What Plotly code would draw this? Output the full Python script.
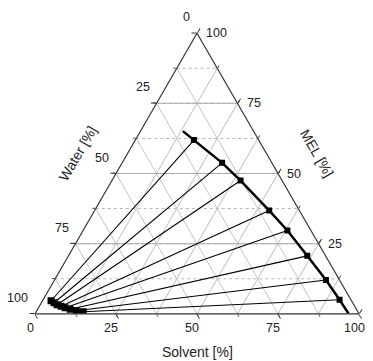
import math
import plotly.graph_objects as go

# ---- data (MEL = a / top, Water = b / bottom-left, Solvent = c / bottom-right) ----
# Solvent-rich phase (right branch, squares)
right_mel = [61.9, 53.8, 47.5, 36.8, 29.7, 20.65, 12.06, 5.0]
right_water = [20.0, 15.35, 12.8, 9.3, 7.25, 5.65, 4.17, 3.5]
right_solvent = [18.1, 30.85, 39.7, 53.9, 63.05, 73.7, 83.77, 91.5]
# curve extensions of the right branch (no markers)
right_start = (65.1, 21.8, 13.1)
right_end = (0.0, 3.2, 96.8)

# Water-rich phase (left branch, squares)
left_mel = [4.65, 3.94, 3.22, 2.68, 2.15, 1.61, 1.07, 0.72]
left_water = [92.7, 92.1, 91.6, 90.6, 89.6, 88.3, 86.75, 84.8]
left_solvent = [2.63, 3.92, 5.21, 6.72, 8.23, 10.05, 12.18, 14.52]

major_ticks = [0, 25, 50, 75, 100]
minor_grid = [12.5, 25, 37.5, 50, 62.5, 75, 87.5]
tick_labels = ["0", "25", "50", "75", "100"]

FONT = "Arial, Liberation Sans, sans-serif"
TXT = "#222"

# figure geometry (the page body adds an 8 px offset)
FIG_W, FIG_H = 365, 353
M = dict(l=27, r=14, t=25, b=47)
PW = FIG_W - M["l"] - M["r"]
PH = FIG_H - M["t"] - M["b"]

fig = go.Figure()

# invisible trace so that the background grid subplot is rendered
fig.add_trace(go.Scatterternary(
    a=[major_ticks[-1]], b=[major_ticks[0]], c=[major_ticks[0]],
    mode="markers", marker=dict(opacity=0), subplot="ternary",
    showlegend=False, hoverinfo="skip"))

# binodal right branch
fig.add_trace(go.Scatterternary(
    a=[right_start[0]] + right_mel + [right_end[0]],
    b=[right_start[1]] + right_water + [right_end[1]],
    c=[right_start[2]] + right_solvent + [right_end[2]],
    mode="lines", line=dict(color="black", width=2.5),
    subplot="ternary2", showlegend=False, hoverinfo="skip"))
# binodal left branch
fig.add_trace(go.Scatterternary(
    a=left_mel, b=left_water, c=left_solvent,
    mode="lines", line=dict(color="black", width=4),
    subplot="ternary2", showlegend=False, hoverinfo="skip"))
# tie lines
for i in range(len(right_mel)):
    fig.add_trace(go.Scatterternary(
        a=[left_mel[i], right_mel[i]],
        b=[left_water[i], right_water[i]],
        c=[left_solvent[i], right_solvent[i]],
        mode="lines", line=dict(color="black", width=1.1),
        subplot="ternary2", showlegend=False, hoverinfo="skip"))
# markers
fig.add_trace(go.Scatterternary(
    a=right_mel, b=right_water, c=right_solvent,
    mode="markers", marker=dict(symbol="square", color="black", size=6),
    subplot="ternary2", showlegend=False))
fig.add_trace(go.Scatterternary(
    a=left_mel, b=left_water, c=left_solvent,
    mode="markers", marker=dict(symbol="square", color="black", size=7),
    subplot="ternary2", showlegend=False))

grid_axis_minor = dict(
    tickmode="array", tickvals=minor_grid, showticklabels=False,
    ticks="outside", ticklen=3, tickcolor="#555",
    showline=False, showgrid=True, gridcolor="#c4c4c4", gridwidth=1, min=0,
    title=dict(text=""),
)

def major_axis(show_grid):
    return dict(
        tickmode="array", tickvals=major_ticks, showticklabels=False,
        ticks="outside", ticklen=5, tickcolor="#333",
        showline=True, linecolor="#333", linewidth=1.2,
        showgrid=show_grid, gridcolor="#a8a8a8", gridwidth=1.2,
        min=0, title=dict(text=""),
    )

# tick labels placed as in the reference (Origin style)
side = min(PW, PH / (math.sqrt(3) / 2))
H = side * math.sqrt(3) / 2 / PH          # triangle height in paper units
W = side / PW
x0 = (1 - W) / 2
yb = (1 - H) / 2
tick_font = dict(family=FONT, size=12.5, color=TXT)
annotations = []
for t, lab in zip(major_ticks, tick_labels):
    f = t / 100.0
    # Water (left edge, 0 at top)
    annotations.append(dict(
        text=lab, xref="paper", yref="paper",
        x=x0 + W * 0.5 * (1 - f), y=yb + H * (1 - f),
        xanchor="right", yanchor="middle", xshift=-5, yshift=16,
        showarrow=False, font=tick_font))
    # MEL (right edge, 0 at bottom)
    annotations.append(dict(
        text=lab, xref="paper", yref="paper",
        x=x0 + W * (1 - 0.5 * f), y=yb + H * f,
        xanchor="left", yanchor="middle", xshift=7, yshift=0,
        showarrow=False, font=tick_font))
    # Solvent (bottom edge, 0 at left)
    annotations.append(dict(
        text=lab, xref="paper", yref="paper",
        x=x0 + W * f, y=yb,
        xanchor="center", yanchor="middle", xshift=-5, yshift=-14,
        showarrow=False, font=tick_font))

title_font = dict(family=FONT, size=14, color=TXT)
annotations += [
    dict(text="Water [%]", xref="paper", yref="paper", x=0.1327, y=0.573,
         xanchor="center", yanchor="middle",
         textangle=-60, showarrow=False, font=title_font),
    dict(text="MEL [%]", xref="paper", yref="paper", x=0.870, y=0.573,
         xanchor="center", yanchor="middle",
         textangle=60, showarrow=False, font=title_font),
    dict(text="Solvent [%]", x=0.5, y=-0.134, xref="paper", yref="paper",
         xanchor="center", yanchor="middle",
         showarrow=False, font=title_font),
]

fig.update_layout(
    ternary=dict(
        sum=100, bgcolor="white",
        domain=dict(x=[0, 1], y=[0, 1]),
        aaxis=dict(grid_axis_minor, griddash="dot", gridcolor="#b8b8b8"),
        baxis=dict(grid_axis_minor),
        caxis=dict(grid_axis_minor),
    ),
    ternary2=dict(
        sum=100, bgcolor="rgba(0,0,0,0)",
        domain=dict(x=[0, 1], y=[0, 1]),
        aaxis=major_axis(True),
        baxis=major_axis(False),
        caxis=major_axis(False),
    ),
    width=FIG_W, height=FIG_H,
    margin=M,
    paper_bgcolor="white",
    font=dict(family=FONT, size=12, color=TXT),
    annotations=annotations,
)

fig.write_html("out.html")
